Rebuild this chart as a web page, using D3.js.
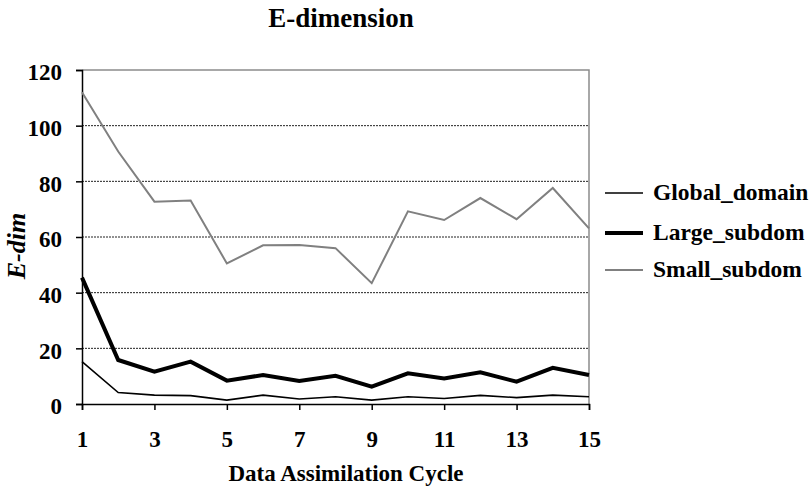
<!DOCTYPE html>
<html>
<head>
<meta charset="utf-8">
<script src="https://cdn.jsdelivr.net/npm/d3@7"></script>
<style>
  html, body { margin: 0; padding: 0; background: #fff; }
  svg { display: block; }
  text { font-family: "Liberation Serif", "Times New Roman", serif; font-weight: bold; fill: #000; }
</style>
</head>
<body>
<svg id="chart" width="810" height="489"></svg>
<script>
// Data assimilation cycles 1..15
const cycles = [1, 2, 3, 4, 5, 6, 7, 8, 9, 10, 11, 12, 13, 14, 15];
const globalDomain = [15.2, 4.1, 3.2, 3.0, 1.4, 3.2, 1.8, 2.6, 1.4, 2.6, 2.0, 3.1, 2.3, 3.2, 2.6];
const largeSubdom  = [45.4, 15.8, 11.6, 15.2, 8.4, 10.4, 8.3, 10.1, 6.2, 11.0, 9.2, 11.4, 8.0, 13.0, 10.4];
const smallSubdom  = [112.0, 90.7, 72.7, 73.1, 50.5, 57.0, 57.1, 56.0, 43.4, 69.2, 66.1, 74.0, 66.4, 77.6, 63.1];
const xTicks = [1, 3, 5, 7, 9, 11, 13, 15];
const yTicks = [0, 20, 40, 60, 80, 100, 120];
const seriesNames = ["Global_domain", "Large_subdom", "Small_subdom"];

const FONT = "'Liberation Serif', 'Times New Roman', serif";

const series = [
  { name: seriesNames[0], values: globalDomain, color: "#000000", width: 1.6 },
  { name: seriesNames[1], values: largeSubdom,  color: "#000000", width: 4 },
  { name: seriesNames[2], values: smallSubdom,  color: "#808080", width: 2 }
];

const svg = d3.select("#chart");
const plot = { left: 82, right: 589, top: 70, bottom: 404 };

const x = d3.scaleLinear().domain([1, 15]).range([plot.left, plot.right]);
const y = d3.scaleLinear().domain([0, 120]).range([plot.bottom, plot.top]);

// Title
svg.append("text")
  .attr("x", 341).attr("y", 27)
  .attr("text-anchor", "middle")
  .style("font-size", "27px")
  .text("E-dimension");

// Dotted horizontal gridlines
svg.append("g")
  .selectAll("line")
  .data(yTicks.filter(t => t > 0 && t < 120))
  .join("line")
  .attr("x1", plot.left).attr("x2", plot.right)
  .attr("y1", d => y(d)).attr("y2", d => y(d))
  .attr("stroke", "#222").attr("stroke-width", 1)
  .attr("stroke-dasharray", "2,1");

// Frame: top and right edges in grey
svg.append("path")
  .attr("d", `M${plot.left},${plot.top}H${plot.right}V${plot.bottom}`)
  .attr("fill", "none").attr("stroke", "#8c8c8c").attr("stroke-width", 1.5);

// Y axis
const yAxis = svg.append("g")
  .attr("transform", `translate(${plot.left},0)`)
  .call(d3.axisLeft(y).tickValues(yTicks).tickSize(6).tickPadding(14).tickFormat(d3.format("d")));
yAxis.select(".domain").attr("stroke", "#000").attr("stroke-width", 1.5);
yAxis.selectAll(".tick line").attr("stroke", "#000").attr("stroke-width", 1.5);
yAxis.selectAll(".tick text")
  .style("font-size", "23px")
  .style("font-family", FONT)
  .style("font-weight", "bold")
  .attr("fill", "#000")
  .attr("dy", "0.42em");

// X axis
const xAxis = svg.append("g")
  .attr("transform", `translate(0,${plot.bottom})`)
  .call(d3.axisBottom(x).tickValues(xTicks).tickSize(6).tickPadding(21).tickFormat(d3.format("d")));
xAxis.select(".domain").attr("stroke", "#000").attr("stroke-width", 1.5);
xAxis.selectAll(".tick line").attr("stroke", "#000").attr("stroke-width", 1.5);
xAxis.selectAll(".tick text")
  .style("font-size", "23px")
  .style("font-family", FONT)
  .style("font-weight", "bold")
  .attr("fill", "#000");

// Axis titles
svg.append("text")
  .attr("x", 346).attr("y", 481)
  .attr("text-anchor", "middle")
  .style("font-size", "23px")
  .text("Data Assimilation Cycle");

svg.append("text")
  .attr("transform", "translate(25,246) rotate(-90)")
  .attr("text-anchor", "middle")
  .style("font-size", "26px")
  .style("font-style", "italic")
  .text("E-dim");

// Series lines
const line = d3.line()
  .x((d, i) => x(cycles[i]))
  .y(d => y(d));

svg.append("g")
  .selectAll("path")
  .data(series.slice().reverse())
  .join("path")
  .attr("d", d => line(d.values))
  .attr("fill", "none")
  .attr("stroke", d => d.color)
  .attr("stroke-width", d => d.width)
  .attr("stroke-linejoin", "miter");

// Legend
const legendY = [193, 233, 270];
const legend = svg.append("g")
  .selectAll("g")
  .data(series)
  .join("g")
  .attr("transform", (d, i) => `translate(605,${legendY[i]})`);
legend.append("line")
  .attr("x1", 0).attr("x2", 38)
  .attr("stroke", d => d.color)
  .attr("stroke-width", d => d.width);
legend.append("text")
  .attr("x", 48).attr("y", 7)
  .style("font-size", "23.5px")
  .text(d => d.name);
</script>
</body>
</html>
